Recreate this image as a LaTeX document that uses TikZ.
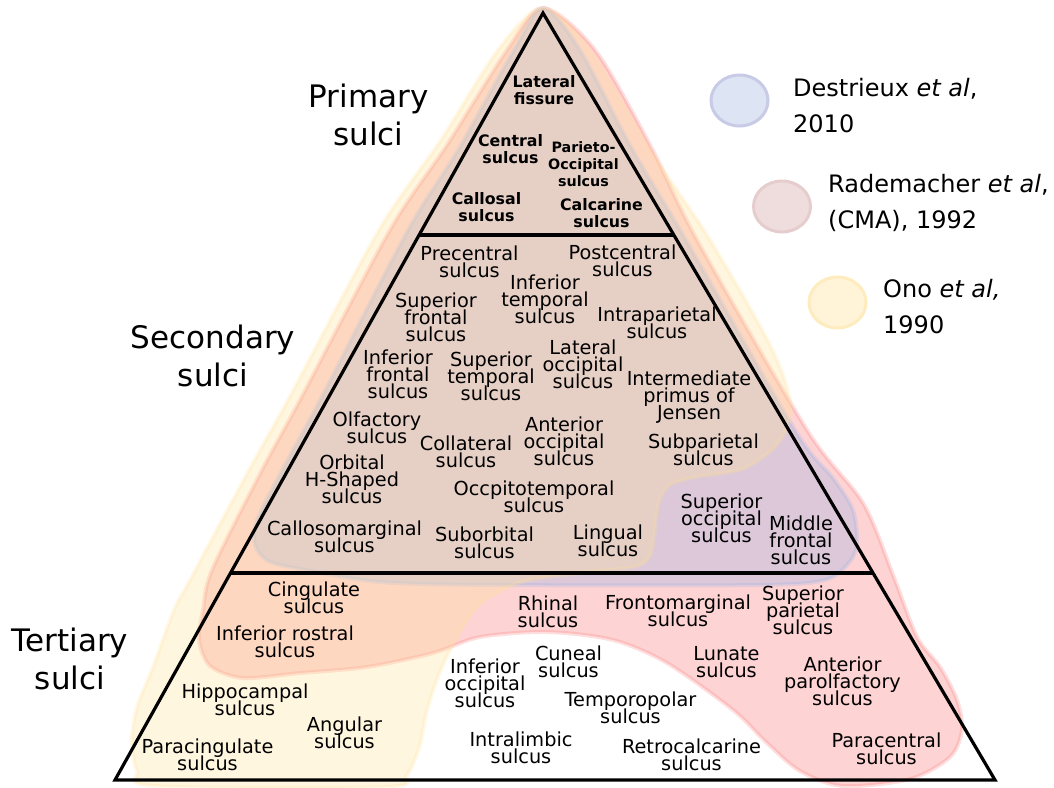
\documentclass[tikz,border=0pt]{standalone}
\usepackage{fontspec}
\setmainfont{DejaVu Sans}
\usetikzlibrary{calc,shapes.geometric}
\lineskiplimit=-100pt
\lineskip=0pt
\definecolor{bpink}{RGB}{250,110,110}
\definecolor{bblue}{RGB}{142,176,233}
\definecolor{byell}{RGB}{255,225,150}
\definecolor{lblue}{RGB}{221,228,243}
\definecolor{lbluee}{RGB}{200,202,230}
\definecolor{lpink}{RGB}{239,221,221}
\definecolor{lpinke}{RGB}{230,205,205}
\definecolor{lyell}{RGB}{255,244,216}
\definecolor{lyelle}{RGB}{254,236,190}
\begin{document}
\begin{tikzpicture}[x=1pt,y=-1pt,
  blob/.style={fill=#1,draw=#1,fill opacity=0.3,draw opacity=0.22,line width=4},
  lab/.style={font={\fontsize{19.3}{17}\selectfont},align=center,inner sep=0},
  prim/.style={font={\bfseries\fontsize{15.8}{17}\selectfont},align=center,inner sep=0},
  primsm/.style={font={\bfseries\fontsize{14.3}{17}\selectfont},align=center,inner sep=0},
  big/.style={font={\fontsize{31}{38}\selectfont},align=center,inner sep=0},
  leg/.style={font={\fontsize{24}{36}\selectfont},align=left,inner sep=0,anchor=west},
  legell/.style={ellipse,minimum width=57,minimum height=51,inner sep=0,line width=3},
  edge/.style={line width=3.2,line join=miter}]
\useasboundingbox (0,0) rectangle (1054,787);

% --- blobs (Rademacher, Destrieux, Ono)
\filldraw[blob=bpink] plot[smooth cycle,tension=0.5] coordinates {
 (543,8) (595,50) (650,145) (697,240) (807,430) (863,503) (893,575) (917,637)
 (940,667) (957,700) (962,730) (950,757) (910,779) (843,786) (800,771) (767,743)
 (733,710) (667,663) (613,640) (547,632) (480,637) (433,653) (367,667) (300,673)
 (243,678) (210,666) (199,640) (203,610) (212,570) (262,470) (300,400) (390,230)
 (447,145) (507,50)};
\filldraw[blob=bblue] plot[smooth cycle,tension=0.5] coordinates {
 (543,8) (580,50) (630,145) (686,240) (795,430) (833,478) (853,510) (857,545)
 (848,564) (825,580) (760,585) (500,585) (380,582) (300,569) (268,561) (255,545)
 (257,520) (282,470) (320,400) (408,230) (458,150) (514,50)};
\filldraw[blob=byell] plot[smooth cycle,tension=0.5] coordinates {
 (543,8) (590,50) (650,150) (710,240) (770,345) (790,400) (786,430) (770,452)
 (740,470) (697,477) (670,485) (659,502) (655,530) (650,556) (635,567) (590,572)
 (530,580) (500,591) (477,607) (457,637) (440,672) (427,710) (420,745) (407,775)
 (385,787) (155,786) (137,771) (132,740) (137,707) (153,667) (174,610) (190,580)
 (249,470) (288,400) (379,230) (441,140) (498,50)};

% --- pyramid
\coordinate (A) at (543,13);
\coordinate (BL) at (115,780);
\coordinate (BR) at (995,780);
\coordinate (L1) at ($(A)!0.28944!(BL)$);
\coordinate (R1) at ($(A)!0.28944!(BR)$);
\coordinate (L2) at ($(A)!0.73012!(BL)$);
\coordinate (R2) at ($(A)!0.73012!(BR)$);
\draw[edge] (A) -- (BL) -- (BR) -- cycle;
\draw[edge] (L1) -- (R1);
\draw[edge] (L2) -- (R2);

% --- level labels
\node[big] (primary) at (368.5,115) {Primary\\sulci};
\node[big] (secondary) at (213,356) {Secondary\\sulci};
\node[big] (tertiary) at (70,659) {Tertiary\\sulci};

% --- primary sulci
\node[prim] (latfis) at (544,90.5) {Lateral\\fissure};
\node[prim] (central) at (510.5,149) {Central\\sulcus};
\node[primsm] (parieto) at (583.5,164) {Parieto-\\Occipital\\sulcus};
\node[prim] (callosal) at (486.5,207.5) {Callosal\\sulcus};
\node[prim] (calcarine) at (601.5,213) {Calcarine\\sulcus};

% --- secondary sulci
\node[lab] (precentral) at (469.5,262) {Precentral\\sulcus};
\node[lab] (postcentral) at (622.5,261) {Postcentral\\sulcus};
\node[lab] (inftemp) at (545,299.5) {Inferior\\temporal\\sulcus};
\node[lab] (supfront) at (436,317) {Superior\\frontal\\sulcus};
\node[lab] (intrapar) at (657,323) {Intraparietal\\sulcus};
\node[lab] (inffront) at (398,374.5) {Inferior\\frontal\\sulcus};
\node[lab] (suptemp) at (491,376.5) {Superior\\temporal\\sulcus};
\node[lab] (latocc) at (583,364.5) {Lateral\\occipital\\sulcus};
\node[lab] (interm) at (689,397) {Intermediate\\primus of\\Jensen};
\node[lab] (olfact) at (377,428) {Olfactory\\sulcus};
\node[lab] (collat) at (466,451.5) {Collateral\\sulcus};
\node[lab] (antocc) at (564,441.5) {Anterior\\occipital\\sulcus};
\node[lab] (subpar) at (703.5,449.5) {Subparietal\\sulcus};
\node[lab] (orbital) at (352,479) {Orbital\\H-Shaped\\sulcus};
\node[lab] (occtemp) at (534,496.5) {Occpitotemporal\\sulcus};
\node[lab] (supocc) at (721.5,518) {Superior\\occipital\\sulcus};
\node[lab] (midfront) at (801,540.5) {Middle\\frontal\\sulcus};
\node[lab] (callosom) at (344.5,536.5) {Callosomarginal\\sulcus};
\node[lab] (suborb) at (484.5,543) {Suborbital\\sulcus};
\node[lab] (lingual) at (608,540.5) {Lingual\\sulcus};

% --- tertiary sulci
\node[lab] (cingulate) at (314,598) {Cingulate\\sulcus};
\node[lab] (infrost) at (285,641.5) {Inferior rostral\\sulcus};
\node[lab] (rhinal) at (548,611.5) {Rhinal\\sulcus};
\node[lab] (frontom) at (678,610.5) {Frontomarginal\\sulcus};
\node[lab] (suppar) at (803,610.5) {Superior\\parietal\\sulcus};
\node[lab] (hippo) at (245,699.5) {Hippocampal\\sulcus};
\node[lab] (infocc) at (485,683) {Inferior\\occipital\\sulcus};
\node[lab] (cuneal) at (568.5,662) {Cuneal\\sulcus};
\node[lab] (lunate) at (726.5,662.5) {Lunate\\sulcus};
\node[lab] (antparolf) at (842.5,681.5) {Anterior\\parolfactory\\sulcus};
\node[lab] (temporop) at (630.5,707.5) {Temporopolar\\sulcus};
\node[lab] (angular) at (344.5,732.5) {Angular\\sulcus};
\node[lab] (paracing) at (207.5,754.5) {Paracingulate\\sulcus};
\node[lab] (intralimb) at (521,748) {Intralimbic\\sulcus};
\node[lab] (retrocalc) at (691.5,754.5) {Retrocalcarine\\sulcus};
\node[lab] (paracent) at (886.5,749) {Paracentral\\sulcus};

% --- legend
\node[legell,fill=lblue,draw=lbluee] (kblue) at (739.5,100.5) {};
\node[legell,fill=lpink,draw=lpinke] (kpink) at (782,206.5) {};
\node[legell,fill=lyell,draw=lyelle] (kyell) at (837.5,302.5) {};
\node[leg] (tdestr) at (793,105.5) {Destrieux \textit{et al},\\2010};
\node[leg] (trade) at (828,202.5) {Rademacher \textit{et al},\\(CMA), 1992};
\node[leg] (tono) at (883,306.5) {Ono \textit{et al,}\\1990};
\end{tikzpicture}
\end{document}
